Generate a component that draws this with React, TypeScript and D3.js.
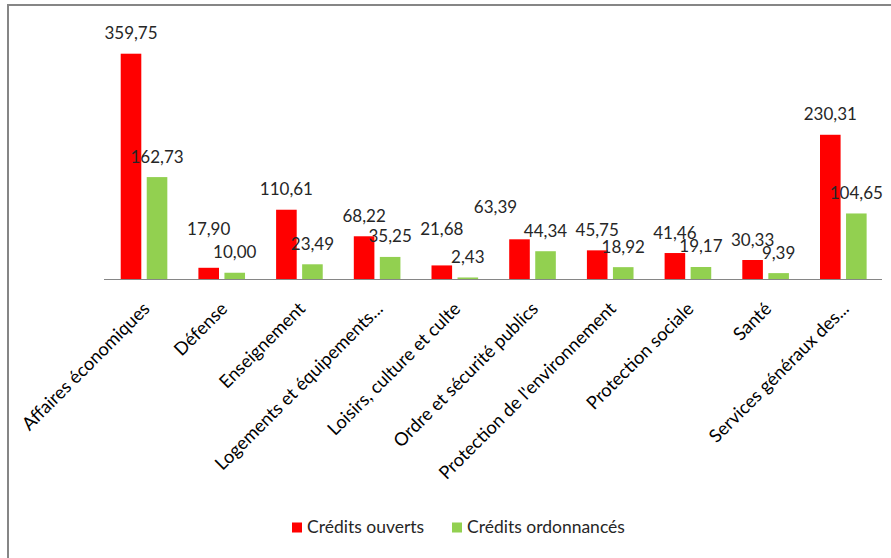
import React from "react";
import * as d3 from "d3";

const categories = [
  "Affaires économiques",
  "Défense",
  "Enseignement",
  "Logements et équipements...",
  "Loisirs, culture et culte",
  "Ordre et sécurité publics",
  "Protection de l'environnement",
  "Protection sociale",
  "Santé",
  "Services généraux des...",
];
const creditsOuverts = [359.75, 17.9, 110.61, 68.22, 21.68, 63.39, 45.75, 41.46, 30.33, 230.31];
const creditsOrdonnances = [162.73, 10.0, 23.49, 35.25, 2.43, 44.34, 18.92, 19.17, 9.39, 104.65];
const seriesNames = ["Crédits ouverts", "Crédits ordonnancés"];
const yDomain = [0, 400];

// label nudges (Excel moved a few labels to avoid overlaps): [dx, dy] for red series
const redLabelShift: [number, number][] = [
  [0, 0], [0, -18], [0, 0], [0, 0], [0, -16], [-24, -12], [0, 0], [0, 0], [0, 0], [0, 0],
];

const W = 891;
const H = 558;
const RED = "#FF0000";
const GREEN = "#92D050";
const FONT = "Lato, 'Open Sans', sans-serif";
const FS = 17;
const CAT_FS = 18.2;
const fmt = (v: number) => v.toFixed(2).replace(".", ",");

export default function App() {
  const x = d3.scaleBand<string>().domain(categories).range([104, 881]).padding(0);
  const y = d3.scaleLinear().domain(yDomain).range([279, 28.5]);
  const bw = x.bandwidth();
  const barW = bw * 0.265;
  const redOff = bw * 0.215;
  const greenOff = bw * 0.55;
  const base = y(0);

  return (
    <svg
      width={W}
      height={H}
      style={{ position: "absolute", left: 0, top: 0, background: "#fff" }}
      fontFamily={FONT}
    >
      <rect x={0} y={0} width={W} height={H} fill="#fff" />
      {/* chart border */}
      <line x1={8} x2={W} y1={5} y2={5} stroke="#868686" strokeWidth={2} />
      <line x1={8} x2={8} y1={4} y2={H} stroke="#868686" strokeWidth={2} />

      {categories.map((c, i) => {
        const x0 = x(c)!;
        const rv = creditsOuverts[i];
        const gv = creditsOrdonnances[i];
        return (
          <g key={c}>
            <rect x={x0 + redOff} y={y(rv)} width={barW} height={base - y(rv)} fill={RED} />
            <rect x={x0 + greenOff} y={y(gv)} width={barW} height={base - y(gv)} fill={GREEN} />
          </g>
        );
      })}

      <line x1={104} x2={882} y1={base + 0.5} y2={base + 0.5} stroke="#868686" strokeWidth={1} />

      {categories.map((c, i) => {
        const x0 = x(c)!;
        const rv = creditsOuverts[i];
        const gv = creditsOrdonnances[i];
        const [dx, dy] = redLabelShift[i];
        return (
          <g key={c + "-lbl"} fontSize={FS} fill="#262626" textAnchor="middle">
            <text x={x0 + redOff + barW / 2 + dx} y={y(rv) - 14.5 + dy}>
              {fmt(rv)}
            </text>
            <text x={x0 + greenOff + barW / 2} y={y(gv) - 14.5}>
              {fmt(gv)}
            </text>
          </g>
        );
      })}

      {categories.map((c) => {
        const cx = x(c)! + bw / 2;
        return (
          <text
            key={c + "-cat"}
            transform={`translate(${cx + 8},${base + 31}) rotate(-45)`}
            textAnchor="end"
            fontSize={CAT_FS}
            fill="#000"
          >
            {c}
          </text>
        );
      })}

      {/* legend */}
      <g fontSize={17.5} fill="#262626">
        <rect x={292} y={522.5} width={10} height={10} fill={RED} />
        <text x={307} y={533}>{seriesNames[0]}</text>
        <rect x={452} y={522.5} width={10} height={10} fill={GREEN} />
        <text x={467} y={533}>{seriesNames[1]}</text>
      </g>
    </svg>
  );
}
